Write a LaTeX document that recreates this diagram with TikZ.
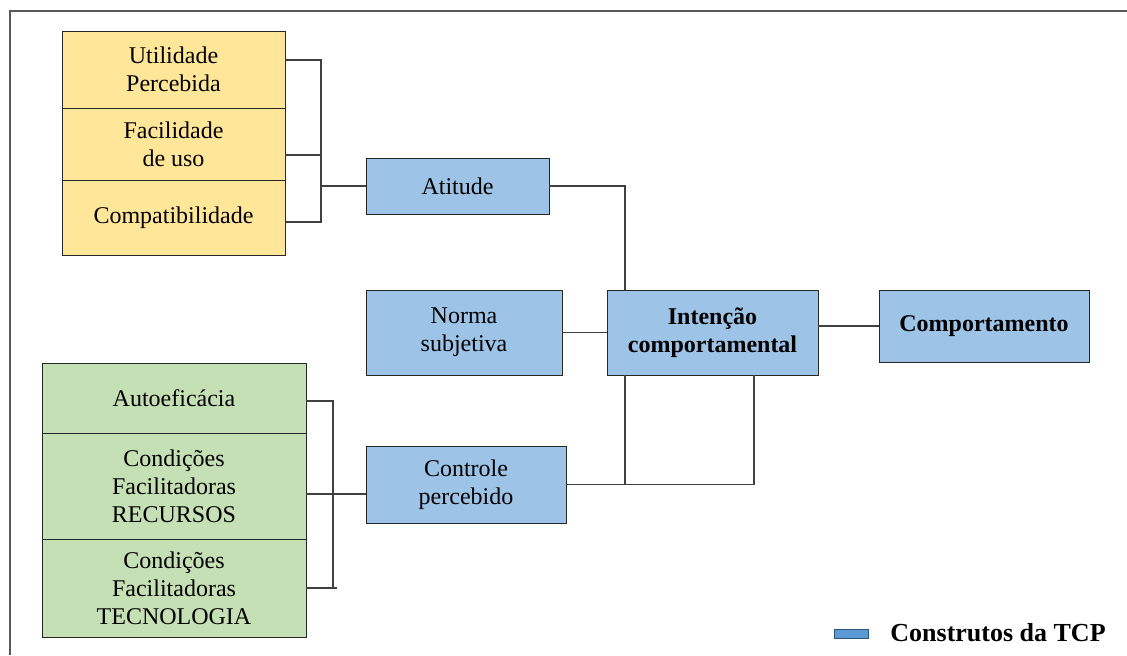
\documentclass[tikz,border=0pt]{standalone}
\usepackage{fontspec}
\setmainfont{Liberation Serif}
\usepackage{tikz}
\usetikzlibrary{positioning}
\definecolor{tcpblue}{RGB}{157, 195, 230}
\definecolor{tamyellow}{RGB}{255, 230, 153}
\definecolor{facgreen}{RGB}{197, 224, 180}
\definecolor{legblue}{RGB}{91, 155, 213}
\tikzset{
  cbox/.style={draw=black!85, fill=#1, align=center, inner sep=2pt, outer sep=0pt, anchor=north west,
    font=\fontsize{12}{14}\selectfont},
  link/.style={draw=black!75, line width=0.6pt}
}

\begin{document}
\begin{tikzpicture}[x=0.5pt, y=-0.5pt]
  \useasboundingbox (0,0) rectangle (1127,655);
  \draw[black!65, line width=0.6pt] (10,655) -- (10,11) -- (1127,11);

  \node[cbox=tamyellow, minimum width=111.5pt, minimum height=38.5pt] (util) at (62,31) {Utilidade\\Percebida};
  \node[cbox=tamyellow, minimum width=111.5pt, minimum height=36pt, below=0pt of util] (facil) {Facilidade\\de uso};
  \node[cbox=tamyellow, minimum width=111.5pt, minimum height=37.5pt, below=0pt of facil] (compat) {Compatibilidade};

  \node[cbox=facgreen, minimum width=132pt, minimum height=35pt] (autoef) at (42,363) {Autoeficácia};
  \node[cbox=facgreen, minimum width=132pt, minimum height=53pt, below=0pt of autoef] (recur) {Condições\\Facilitadoras\\RECURSOS};
  \node[cbox=facgreen, minimum width=132pt, minimum height=49pt, below=0pt of recur] (tecno) {Condições\\Facilitadoras\\TECNOLOGIA};

  \node[cbox=tcpblue, minimum width=91.5pt, minimum height=28pt] (atit) at (366,158) {Atitude};
  \node[cbox=tcpblue, minimum width=98pt, minimum height=42.5pt] (norma) at (366,290) {Norma\\subjetiva};
  \node[cbox=tcpblue, minimum width=105.5pt, minimum height=42.5pt] (intenc) at (607,290) {\textbf{Intenção}\\\textbf{comportamental}};
  \node[cbox=tcpblue, minimum width=105pt, minimum height=36pt] (comport) at (879,290) {\textbf{Comportamento}};
  \node[cbox=tcpblue, minimum width=100pt, minimum height=38.5pt] (ctrl) at (366,446) {Controle\\percebido};

  \coordinate (ytop) at (321,60);
  \coordinate (ymid) at (321,155);
  \coordinate (ybot) at (321,222);
  \draw[link] (util.east |- ytop) -- (ytop) -- (ybot) -- (compat.east |- ybot);
  \draw[link] (facil.east |- ymid) -- (ymid);
  \draw[link] (atit.west -| ytop) -- (atit.west);

  \coordinate (gtop) at (333,401);
  \coordinate (gmid) at (333,494);
  \coordinate (gbot) at (333,588);
  \draw[link] (autoef.east |- gtop) -- (gtop) -- (gbot);
  \draw[link] (tecno.east |- gbot) -- ([xshift=2pt]gbot);
  \draw[link] (recur.east |- gmid) -- (ctrl.west |- gmid);

  \coordinate (jl) at (625,0);
  \coordinate (jr) at (754,0);
  \draw[link] (atit.east) -| (intenc.north -| jl);
  \draw[link] (norma.east) -- (intenc.west);
  \draw[link] (intenc.east |- comport.west) -- (comport.west);
  \draw[link] (ctrl.east) -- (ctrl.east -| jr) -- (intenc.south -| jr);
  \draw[link] (ctrl.east -| jl) -- (intenc.south -| jl);

  \node[draw=legblue!55!black, fill=legblue, minimum width=17pt, minimum height=4.5pt, inner sep=0pt] (legsw) at (851,633.5) {};
  \node[anchor=west, inner sep=0pt, font=\fontsize{13}{15}\selectfont\bfseries] (legtxt) at (890,633) {Construtos da TCP};
\end{tikzpicture}
\end{document}
